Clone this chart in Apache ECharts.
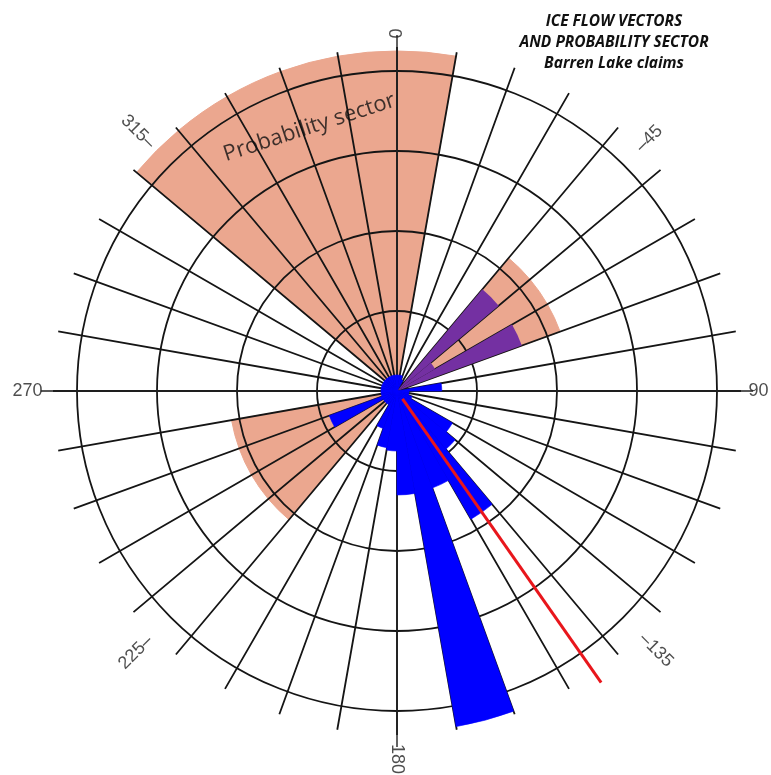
<!DOCTYPE html>
<html><head><meta charset="utf-8">
<script src="https://cdn.jsdelivr.net/npm/echarts@6/dist/echarts.min.js"></script>
<style>html,body{margin:0;padding:0;background:#fff}#c{width:771px;height:775px}</style>
</head><body><div id="c"></div>
<script>
// 10-degree direction classes (start bearing of each class, clockwise from north)
const sectors = ['0','10','20','30','40','50','60','70','80','90','100','110','120','130','140','150','160','170',
                 '180','190','200','210','220','230','240','250','260','270','280','290','300','310','320','330','340','350'];
// probability sector extent (radial units, 1 unit = one ring)
const probability = [4.25,0,0,0,2.17,2.17,2.17,0,0,0,0,0,0,0,0,0,0,0,
                     0,0,0,0,2.1,2.1,2.1,2.1,0,0,0,0,0,4.25,4.25,4.25,4.25,4.25];
// ice-flow vectors (purple set)
const purpleVectors = [0,0,0,0,1.66,0.55,1.66,0,0,0,0,0,0,0,0,0,0,0,
                       0,0,0,0,0,0,0,0,0,0,0,0,0,0,0,0,0,0];
// ice-flow vectors (blue set)
const blueVectors = [0.2,0.2,0.15,0,0,0,0,0,0.56,0.15,0.15,0.2,0.8,0.95,1.85,1.29,4.26,1.3,
                     0.75,0.72,0.5,0.2,0.2,0.2,0.9,0.2,0.2,0.2,0.2,0.2,0.2,0.2,0.2,0.2,0.2,0.2];
// mean direction (red line): bearing and radial extent
const meanBearing = 145;
const meanExtent = [0.12, 4.48];
// tick labels
const tickLabels = ['0','\u201345','90','\u2013135','180','225\u2013','270','315\u2013'];
const tickAngles = [0,45,90,135,180,225,270,315];
const tickRadii  = [4.47,4.46,4.52,4.58,4.6,4.62,4.62,4.58];
const tickRotate = [90,45,0,-45,-90,45,0,-45];
const sectorText = 'Probability sector';

const C = [397,391];
const chart = echarts.init(document.getElementById('c'), null, {renderer:'canvas'});
const hidden = {axisLine:{show:false},axisTick:{show:false},axisLabel:{show:false},splitLine:{show:false}};
const gridLine = {color:'#151515', width:1.8};

const labelData = tickLabels.map((t,i)=>({
  value:[tickRadii[i], tickAngles[i]], name:t,
  label:{rotate:tickRotate[i]}
}));
labelData.push({value:[3.47,341.6], name:sectorText,
  label:{rotate:18, fontSize:22, color:'#111', fontFamily:'Open Sans'}});

chart.setOption({
  backgroundColor:'#fff',
  animation:false,
  title:{
    text:'ICE FLOW VECTORS\nAND PROBABILITY SECTOR\nBarren Lake claims',
    left:609, top:6, textAlign:'center',
    textStyle:{fontFamily:'Open Sans', fontSize:15.5, fontWeight:'bold', fontStyle:'italic', color:'#111', lineHeight:21}
  },
  polar:[
    {center:C, radius:320},
    {center:C, radius:344},
    {center:C, radius:356}
  ],
  angleAxis:[
    Object.assign({}, hidden, {polarIndex:0, type:'category', data:sectors, startAngle:90, clockwise:true, z:1}),
    Object.assign({}, hidden, {polarIndex:1, type:'category', data:sectors, startAngle:90, clockwise:true, z:1,
      axisLabel:{show:false, interval:0},
      splitLine:{show:true, interval:0, lineStyle:gridLine}}),
    Object.assign({}, hidden, {polarIndex:2, type:'value', min:0, max:360, interval:90, startAngle:90, clockwise:true, z:1,
      splitLine:{show:true, lineStyle:{color:'#222', width:1.4}}})
  ],
  radiusAxis:[
    Object.assign({}, hidden, {polarIndex:0, type:'value', min:0, max:4, interval:1, z:1,
      splitLine:{show:true, lineStyle:gridLine}}),
    Object.assign({}, hidden, {polarIndex:1, type:'value', min:0, max:4.3}),
    Object.assign({}, hidden, {polarIndex:2, type:'value', min:0, max:4.45})
  ],
  series:[
    {type:'bar', coordinateSystem:'polar', polarIndex:1, data:probability, z:0,
     barCategoryGap:'0%', barGap:'-100%', itemStyle:{color:'#eba78f', borderColor:'#eba78f', borderWidth:1}, silent:true},
    {type:'bar', coordinateSystem:'polar', polarIndex:1, data:purpleVectors, z:2,
     barCategoryGap:'0%', barGap:'-100%', itemStyle:{color:'#7430a2'}, silent:true},
    {type:'bar', coordinateSystem:'polar', polarIndex:1, data:blueVectors, z:2,
     barCategoryGap:'0%', barGap:'-100%', itemStyle:{color:'#0000ff', borderColor:'#0000ff', borderWidth:0.6}, silent:true},
    {type:'line', coordinateSystem:'polar', polarIndex:2, z:3, clip:false, symbol:'none',
     data:meanExtent.map(r=>[r, meanBearing]), lineStyle:{color:'#e8161c', width:3}},
    {type:'scatter', coordinateSystem:'polar', polarIndex:2, z:4, clip:false, symbolSize:0,
     data:labelData,
     label:{show:true, position:'inside', formatter:p=>p.name, fontSize:18, color:'#222', fontFamily:'Liberation Sans'}}
  ]
});
</script></body></html>
